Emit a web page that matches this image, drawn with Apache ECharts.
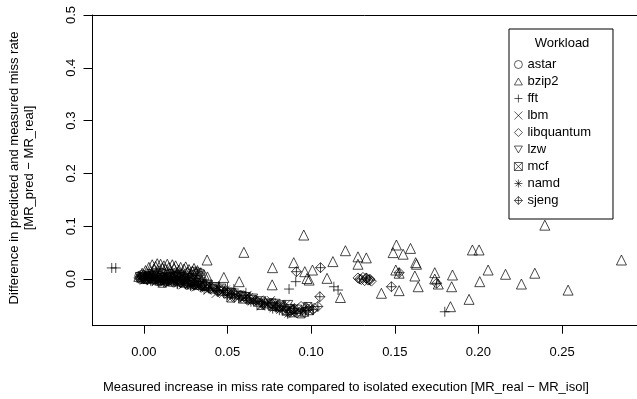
<!DOCTYPE html>
<html><head><meta charset="utf-8">
<script src="https://cdn.jsdelivr.net/npm/echarts@6/dist/echarts.min.js"></script>
<style>html,body{margin:0;padding:0;background:#fff}#c{width:637px;height:399px}</style>
</head><body><div id="c"></div>
<script>
const FONT = "'Liberation Sans', Arial, Helvetica, sans-serif";
const FS = 13;
const workloads = ['astar','bzip2','fft','lbm','libquantum','lzw','mcf','namd','sjeng'];
const xTicks = [0, 0.05, 0.10, 0.15, 0.20, 0.25];
const yTicks = [0, 0.1, 0.2, 0.3, 0.4, 0.5];
const xTitle = 'Measured increase in miss rate compared to isolated execution [MR_real \u2212 MR_isol]';
const yTitle = 'Difference in predicted and measured miss rate\n[MR_pred \u2212 MR_real]';

const astar = [[-0.003,0.006],[-0.002,0.002],[-0.001,0.009],[0.000,0.004],[0.001,0.000],[0.002,0.007],[0.003,0.011],[0.004,0.003],[0.005,0.008],[0.006,-0.001],[0.007,0.005],[0.008,0.010],[0.009,0.002],[0.010,0.007],[0.011,0.012],[0.012,0.004],[0.013,-0.002],[0.014,0.009],[0.015,0.005],[0.016,0.011],[0.017,0.001],[0.018,0.007],[0.019,0.013],[0.021,0.004],[0.022,0.010],[0.023,-0.001],[0.024,0.006],[0.026,0.012],[0.027,0.003],[0.029,0.009],[0.030,0.015],[0.031,0.011],[0.032,0.014],[0.034,0.012],[0.033,0.008],
 [-0.002,-0.001],[0.004,0.001],[0.010,-0.003],[0.016,-0.003],[0.020,0.008],[0.025,0.001],[0.028,-0.004]];
const bzip2 = [[-0.003,0.005],[-0.001,0.011],[0.001,0.016],[0.003,0.022],[0.004,0.014],[0.005,0.027],[0.006,0.019],[0.007,0.024],[0.008,0.029],[0.009,0.016],[0.010,0.028],[0.011,0.021],[0.012,0.025],[0.013,0.018],[0.014,0.028],[0.015,0.022],[0.016,0.014],[0.017,0.027],[0.018,0.020],[0.019,0.025],[0.020,0.012],[0.021,0.017],[0.022,0.022],[0.023,0.010],[0.024,0.019],[0.025,0.023],[0.026,0.013],[0.027,0.018],[0.028,0.007],[0.029,0.015],[0.030,0.020],[0.031,0.010],[0.032,0.016],[0.033,0.005],[0.034,0.012],[0.036,0.008],[0.038,0.004],
 [0.0378,0.036],[0.0598,0.0505],[0.0956,0.0833],[0.0478,0.003],[0.057,-0.005],[0.0769,0.0215],[0.0767,-0.011],[0.0896,0.031],[0.0962,0.0139],[0.1008,0.017],[0.0988,-0.002],[0.0975,0.001],[0.1095,0.0013],[0.113,0.033],[0.1175,-0.035],[0.1205,0.0536],[0.128,0.042],[0.133,0.040],[0.128,0.028],[0.142,-0.027],[0.149,0.050],[0.151,0.0644],[0.155,0.047],[0.1594,0.058],[0.1625,0.031],[0.163,0.028],[0.1506,0.017],[0.1526,0.011],[0.162,0.0057],[0.1526,-0.022],[0.164,-0.0146],[0.1739,0.012],[0.1739,0.000],[0.176,-0.0095],[0.1845,0.0076],[0.184,-0.0146],[0.1833,-0.0524],[0.1944,-0.0385],[0.1964,0.055],[0.2004,0.055],[0.2058,0.017],[0.2008,-0.005],[0.2162,0.009],[0.2257,-0.0095],[0.2337,0.011],[0.2397,0.102],[0.2536,-0.021],[0.2855,0.036]];
const fft = [[-0.0192,0.021],[-0.0168,0.021],[0.005,-0.003],[0.012,-0.006],[0.020,-0.009],[0.028,-0.012],[0.0365,-0.0076],[0.040,-0.010],[0.0448,-0.0133],[0.050,-0.017],[0.0538,-0.019],[0.061,-0.026],[0.0868,-0.019],[0.0908,-0.005],[0.1136,-0.0146],[0.1161,-0.0208],[0.1799,-0.062]];
const lbm = [[-0.002,0.001],[0.000,-0.003],[0.002,0.003],[0.004,-0.002],[0.006,0.002],[0.008,-0.004],[0.010,0.000],[0.012,-0.005],[0.014,-0.001],[0.016,-0.006],[0.018,-0.003],[0.020,-0.008],[0.022,-0.004],[0.024,-0.010],[0.026,-0.006],[0.028,-0.012],[0.030,-0.008],[0.032,-0.014],[0.034,-0.011],[0.036,-0.017],[0.039,-0.015],[0.042,-0.021],[0.045,-0.018],[0.048,-0.026],[0.051,-0.024],[0.054,-0.031],[0.057,-0.029],[0.060,-0.036],[0.063,-0.034],[0.066,-0.041],[0.069,-0.039],[0.072,-0.046],[0.075,-0.044],[0.078,-0.051],[0.081,-0.049],[0.084,-0.055],[0.087,-0.058],[0.090,-0.054],[0.093,-0.061],
 [-0.001,0.006],[0.003,0.008],[0.007,-0.006],[0.011,0.005],[0.015,-0.008],[0.019,0.003],[0.023,-0.012],[0.027,-0.001],[0.031,-0.016],[0.035,-0.006],[0.038,-0.022],[0.043,-0.028],[0.049,-0.020],[0.056,-0.038],[0.062,-0.030],[0.070,-0.052],[0.076,-0.040],[0.085,-0.048],[0.089,-0.066]];
const libquantum = [[-0.003,0.002],[-0.001,0.005],[0.001,0.001],[0.003,0.006],[0.005,-0.001],[0.007,0.004],[0.009,-0.002],[0.011,0.003],[0.013,-0.003],[0.015,0.002],[0.017,-0.004],[0.019,0.001],[0.021,-0.005],[0.023,0.000],[0.025,-0.007],[0.027,-0.002],[0.029,-0.009],[0.031,-0.004],[0.044,-0.024],[0.053,-0.033],[0.062,-0.040],[0.071,-0.048],[0.080,-0.054],[0.089,-0.058],[0.094,-0.052],[0.098,-0.057],[0.102,-0.055],[0.128,0.002],[0.130,-0.001],[0.131,0.003],[0.132,-0.003],[0.133,0.001],[0.134,-0.002],[0.135,0.000],[0.136,-0.004],
 [0.000,0.007],[0.004,0.000],[0.008,0.006],[0.012,-0.001],[0.016,0.004],[0.020,-0.003],[0.024,0.003],[0.028,-0.006],[0.032,-0.011],[0.036,-0.013]];
const lzw = [[0.000,0.000],[0.004,0.004],[0.008,-0.003],[0.012,0.001],[0.016,-0.002],[0.020,0.003],[0.024,-0.005],[0.028,-0.003],[0.033,-0.009],[0.038,-0.012],[0.046,-0.019],[0.052,-0.027],[0.058,-0.033],[0.065,-0.038],[0.070,-0.043],[0.076,-0.047],[0.082,-0.051],[0.086,-0.050],
 [-0.002,0.003],[0.002,-0.002],[0.006,0.006],[0.010,0.002],[0.014,-0.004],[0.018,0.004],[0.022,-0.007],[0.026,0.001],[0.030,-0.012],[0.035,-0.014],[0.042,-0.016]];
const mcf = [[0.001,-0.001],[0.005,0.001],[0.009,-0.004],[0.013,0.000],[0.017,-0.006],[0.021,-0.002],[0.025,-0.008],[0.029,-0.006],[0.033,-0.012],[0.037,-0.014],[0.041,-0.019],[0.046,-0.023],[0.050,-0.028],[0.055,-0.030],[0.059,-0.038],[0.064,-0.039],[0.068,-0.044],[0.073,-0.047],[0.077,-0.052],[0.081,-0.053],[0.085,-0.061],[0.088,-0.064],[0.092,-0.057],[0.096,-0.063],[0.099,-0.060],
 [0.003,0.004],[0.011,-0.008],[0.019,0.005],[0.027,-0.011],[0.035,-0.009],[0.043,-0.015],[0.052,-0.036],[0.061,-0.033],[0.070,-0.050],[0.079,-0.046],[0.087,-0.056],[0.094,-0.066],[0.098,-0.052]];
const namd = [[-0.002,0.004],[0.002,0.000],[0.006,0.005],[0.010,-0.003],[0.014,0.002],[0.018,-0.005],[0.022,0.000],[0.026,-0.009],[0.030,-0.011],[0.034,-0.015],[0.040,-0.018],[0.047,-0.025],[0.053,-0.029],[0.061,-0.038],[0.067,-0.043],[0.074,-0.049],[0.079,-0.055],[0.083,-0.059],[0.086,-0.067],[0.091,-0.065],[0.095,-0.061],
 [0.001,0.006],[0.004,-0.004],[0.008,0.003],[0.012,-0.007],[0.016,0.000],[0.020,-0.010],[0.024,-0.004],[0.028,-0.014],[0.032,-0.008],[0.036,-0.020],[0.044,-0.022],[0.050,-0.031],[0.057,-0.034],[0.064,-0.044],[0.071,-0.047],[0.077,-0.057],[0.081,-0.060]];
const sjeng = [[0.000,0.001],[0.007,0.000],[0.015,-0.003],[0.022,-0.006],[0.031,-0.010],[0.039,-0.016],[0.049,-0.022],[0.058,-0.031],[0.067,-0.040],[0.076,-0.046],[0.084,-0.052],[0.090,-0.056],[0.097,-0.054],[0.101,-0.058],[0.104,-0.052],[0.0912,0.0139],[0.1056,0.0215],[0.1052,-0.0335],[0.148,-0.0146],[0.129,0.000],[0.133,0.002],[0.135,-0.002],[0.1526,0.012],[0.175,-0.008],
 [0.003,0.003],[0.011,-0.002],[0.018,0.002],[0.026,-0.005],[0.034,-0.012],[0.045,-0.021],[0.054,-0.027],[0.063,-0.036],[0.072,-0.044],[0.080,-0.050],[0.088,-0.060]];

const seriesData = {astar, bzip2, fft, lbm, libquantum, lzw, mcf, namd, sjeng};
const symbols = {
  astar: ['circle', 8],
  bzip2: ['path://M5,0L10,8.66L0,8.66Z', 10],
  fft: ['path://M0,5L10,5M5,0L5,10', 10],
  lbm: ['path://M0,0L10,10M10,0L0,10', 8],
  libquantum: ['path://M5,0L10,5L5,10L0,5Z', 10],
  lzw: ['path://M0,0L10,0L5,8.66Z', 10],
  mcf: ['path://M0,0L10,0L10,10L0,10ZM0,0L10,10M10,0L0,10', 8],
  namd: ['path://M0,5L10,5M5,0L5,10M1.5,1.5L8.5,8.5M8.5,1.5L1.5,8.5', 9],
  sjeng: ['path://M5,0L10,5L5,10L0,5ZM0,5L10,5M5,0L5,10', 10]
};

const chart = echarts.init(document.getElementById('c'), null, {renderer: 'canvas'});
const series = workloads.map(w => ({
  name: w, type: 'scatter', data: seriesData[w],
  symbol: symbols[w][0], symbolSize: symbols[w][1],
  itemStyle: {color: 'transparent', borderColor: '#000', borderWidth: 0.9},
  emphasis: {disabled: true}, silent: true
}));

chart.setOption({
  animation: false,
  backgroundColor: '#fff',
  textStyle: {fontFamily: FONT},
  grid: {left: 92.5, top: 15, right: 0, bottom: 73.3, containLabel: false},
  xAxis: [{
    type: 'value', min: -0.0307, max: 0.2948, position: 'bottom',
    axisLine: {show: true, onZero: false, lineStyle: {color: '#000', width: 1}},
    axisTick: {show: true, length: 8, customValues: xTicks, lineStyle: {color: '#000'}},
    axisLabel: {show: true, customValues: xTicks, margin: 20, color: '#000', fontSize: FS, fontFamily: FONT, formatter: v => v.toFixed(2)},
    splitLine: {show: false}
  }, {
    type: 'value', min: -0.0307, max: 0.2948, position: 'top',
    axisLine: {show: true, onZero: false, lineStyle: {color: '#000', width: 1}},
    axisTick: {show: false}, axisLabel: {show: false}, splitLine: {show: false}
  }],
  yAxis: {
    type: 'value', min: -0.0884, max: 0.5, position: 'left',
    axisLine: {show: true, onZero: false, lineStyle: {color: '#000', width: 1}},
    axisTick: {show: true, length: 9, customValues: yTicks, lineStyle: {color: '#000'}},
    axisLabel: {show: true, customValues: yTicks, rotate: 90, margin: 15, color: '#000', fontSize: FS, fontFamily: FONT, formatter: v => v.toFixed(1)},
    splitLine: {show: false}
  },
  legend: {
    orient: 'vertical', left: 509, top: 29, padding: [29, 22, 12, 5],
    itemGap: 4, itemWidth: 8, itemHeight: 8,
    itemStyle: {borderWidth: 0.8},
    borderColor: '#000', borderWidth: 1, borderRadius: 0,
    textStyle: {color: '#000', fontSize: FS, fontFamily: FONT},
    data: workloads, selectedMode: false
  },
  graphic: [
    {type: 'text', x: 562, y: 43, silent: true,
     style: {text: 'Workload', fill: '#000', font: FS + 'px ' + FONT, textAlign: 'center', textVerticalAlign: 'middle', align: 'center', verticalAlign: 'middle'}},
    {type: 'text', x: 346, y: 387, silent: true,
     style: {text: xTitle, fill: '#000', font: FS + 'px ' + FONT, textAlign: 'center', textVerticalAlign: 'middle', align: 'center', verticalAlign: 'middle'}},
    {type: 'text', x: 22, y: 168, rotation: Math.PI / 2, silent: true,
     style: {text: yTitle, fill: '#000', font: FS + 'px ' + FONT, lineHeight: 15.5, textAlign: 'center', textVerticalAlign: 'middle', align: 'center', verticalAlign: 'middle'}}
  ],
  series: series
});
</script></body></html>
